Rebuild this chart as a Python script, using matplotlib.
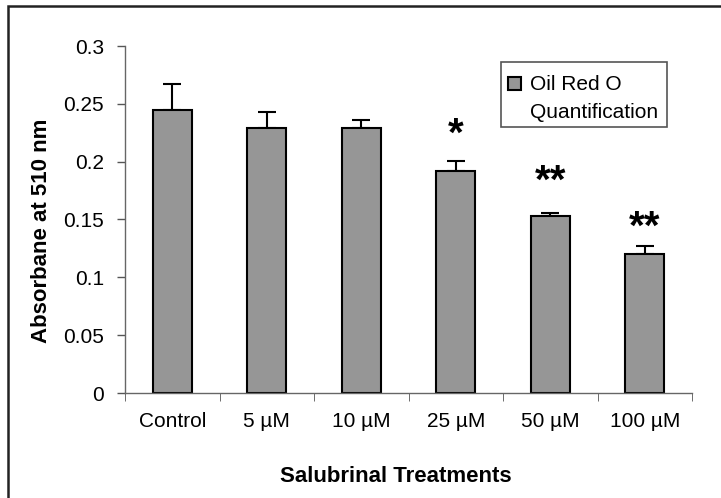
import matplotlib
matplotlib.use("Agg")
import matplotlib.pyplot as plt
from matplotlib.patches import Rectangle

categories = ["Control", "5 µM", "10 µM", "25 µM", "50 µM", "100 µM"]
values = [0.245, 0.229, 0.229, 0.192, 0.153, 0.120]
errors = [0.022, 0.014, 0.007, 0.009, 0.003, 0.007]
stars = ["", "", "", "*", "**", "**"]
yticks = [0, 0.05, 0.1, 0.15, 0.2, 0.25, 0.3]
ytick_labels = ["0", "0.05", "0.1", "0.15", "0.2", "0.25", "0.3"]

plt.rcParams['font.family'] = ['Liberation Sans', 'DejaVu Sans']

W, H = 721, 498
fig = plt.figure(figsize=(W / 100, H / 100), dpi=100)
ax = fig.add_axes([125 / W, 1 - 393 / H, (692 - 125) / W, (393 - 46) / H])

x = list(range(len(categories)))
ax.bar(x, values, width=0.41, color="#969696", edgecolor="black", linewidth=1.5, zorder=2)
ax.errorbar(x, values, yerr=[[0] * len(errors), errors], fmt="none", ecolor="black",
            elinewidth=1.5, capsize=6.5, capthick=1.5, zorder=1)

star_y = [0, 0, 0, 0.223, 0.1828, 0.1431]
for xi, s, sy in zip(x, stars, star_y):
    if s:
        ax.text(xi, sy, s, ha="center", va="center", fontsize=29, fontweight="bold")

ax.set_xlim(-0.5, len(categories) - 0.5)
ax.set_ylim(0, 0.3)
ax.set_yticks(yticks)
ax.set_yticklabels(ytick_labels, fontsize=15)
ax.set_xticks(x)
ax.set_xticklabels(categories, fontsize=15)
ax.tick_params(axis="x", length=0, pad=14)
ax.set_xticks([i - 0.5 for i in range(len(categories) + 1)], minor=True)
ax.tick_params(axis="x", which="minor", length=6, color="#555555", direction="out")
ax.tick_params(axis="y", length=6, color="#555555", width=1, pad=9)

for s in ["top", "right"]:
    ax.spines[s].set_visible(False)
for s in ["left", "bottom"]:
    ax.spines[s].set_color("#666666")
    ax.spines[s].set_linewidth(1)

fig.text(396 / W, 1 - 476 / H, "Salubrinal Treatments", ha="center", va="center",
         fontsize=16, fontweight="bold")
fig.text(42 / W, 1 - 231 / H, "Absorbane at 510 nm", ha="center", va="center",
         rotation=90, fontsize=16, fontweight="bold")

# legend box (manual)
fig.patches.append(Rectangle((501 / W, 1 - 127 / H), (667 - 501) / W, (127 - 62) / H,
                             transform=fig.transFigure, facecolor="white",
                             edgecolor="#555555", linewidth=1.2, zorder=5))
fig.patches.append(Rectangle((508 / W, 1 - 90 / H), 13 / W, 13 / H,
                             transform=fig.transFigure, facecolor="#969696",
                             edgecolor="black", linewidth=1.5, zorder=6))
fig.text(530 / W, 1 - 84 / H, "Oil Red O", ha="left", va="center", fontsize=15, zorder=7)
fig.text(530 / W, 1 - 113 / H, "Quantification", ha="left", va="center", fontsize=15, zorder=7)

# outer frame (only top and left visible in reference)
fig.patches.append(Rectangle((8 / W, -0.1), 1.2, 1 - 6 / H + 0.1,
                             transform=fig.transFigure, facecolor="none",
                             edgecolor="#222222", linewidth=1.8, zorder=0))

fig.savefig("out.png", dpi=100)
